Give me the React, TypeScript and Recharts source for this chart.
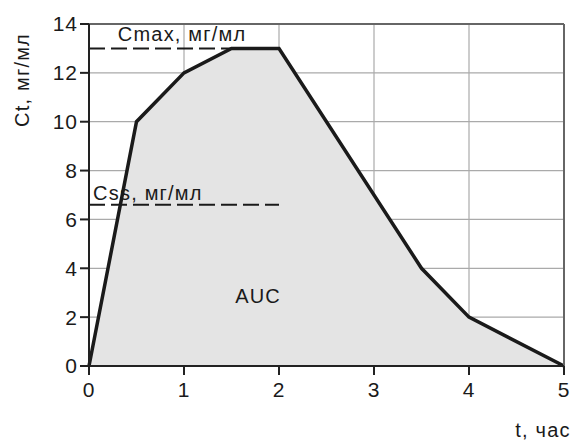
import React from 'react';
import { ComposedChart, Area, XAxis, YAxis, CartesianGrid, ReferenceLine, ReferenceDot } from 'recharts';

const times = [0, 0.5, 1, 1.5, 2, 3.5, 4, 5];
const concentrations = [0, 10, 12, 13, 13, 4, 2, 0];
const xTicks = [0, 1, 2, 3, 4, 5];
const yTicks = [0, 2, 4, 6, 8, 10, 12, 14];
const cmax = 13;
const css = 6.6;
const dashEnd = 2;

const data = times.map((t, i) => ({ t, c: concentrations[i] }));

const FONT = '"Liberation Sans", Arial, Helvetica, sans-serif';
const textStyle = { fontFamily: FONT, fontSize: 20, fill: '#1a1a1a', letterSpacing: 1.2 };
const tickStyle = { fontFamily: FONT, fontSize: 21, fill: '#1a1a1a', letterSpacing: 1 };

export default function App() {
  return (
    <div style={{ position: 'absolute', left: 0, top: 0, background: '#fff' }}>
      <ComposedChart
        width={573}
        height={441}
        data={data}
        margin={{ top: 24, right: 9, bottom: 45, left: 29 }}
      >
        <CartesianGrid stroke="#aaa" strokeWidth={1.2} />
        <XAxis
          dataKey="t"
          type="number"
          domain={[0, 5]}
          ticks={xTicks}
          interval={0}
          height={30}
          tickSize={9}
          tickMargin={7}
          stroke="#222"
          strokeWidth={2}
          tick={tickStyle}
          tickLine={{ stroke: '#222', strokeWidth: 2 }}
          label={{
            content: () => (
              <text x={543} y={437} textAnchor="middle" style={textStyle as any}>
                t, час
              </text>
            ),
          }}
        />
        <YAxis
          type="number"
          domain={[0, 14]}
          ticks={yTicks}
          interval={0}
          width={60}
          tickSize={9}
          tickMargin={2}
          stroke="#222"
          strokeWidth={2}
          tick={tickStyle}
          tickLine={{ stroke: '#222', strokeWidth: 2 }}
          label={{
            content: () => (
              <text
                x={22}
                y={80}
                textAnchor="middle"
                dominantBaseline="central"
                transform="rotate(-90 22 80)"
                style={textStyle as any}
              >
                Ct, мг/мл
              </text>
            ),
          }}
        />
        <Area
          type="linear"
          dataKey="c"
          stroke="#1a1a1a"
          strokeWidth={3.5}
          fill="#e4e4e4"
          fillOpacity={1}
          isAnimationActive={false}
          dot={false}
          activeDot={false}
        />
        <ReferenceLine y={14} stroke="#666" strokeWidth={2} />
        <ReferenceLine x={5} stroke="#666" strokeWidth={2} />
        <ReferenceLine
          segment={[{ x: 0, y: cmax }, { x: dashEnd, y: cmax }]}
          stroke="#1a1a1a"
          strokeWidth={2}
          strokeDasharray="16 6"
        />
        <ReferenceLine
          segment={[{ x: 0, y: css }, { x: dashEnd, y: css }]}
          stroke="#1a1a1a"
          strokeWidth={2}
          strokeDasharray="16 6"
        />
        <ReferenceDot
          x={0.98}
          y={13.6}
          r={0}
          fill="none"
          stroke="none"
          label={{ value: 'Cmax, мг/мл', position: 'center', style: textStyle }}
        />
        <ReferenceDot
          x={0.62}
          y={7.1}
          r={0}
          fill="none"
          stroke="none"
          label={{ value: 'Css, мг/мл', position: 'center', style: textStyle }}
        />
        <ReferenceDot
          x={1.78}
          y={2.86}
          r={0}
          fill="none"
          stroke="none"
          label={{ value: 'AUC', position: 'center', style: textStyle }}
        />
      </ComposedChart>
    </div>
  );
}
